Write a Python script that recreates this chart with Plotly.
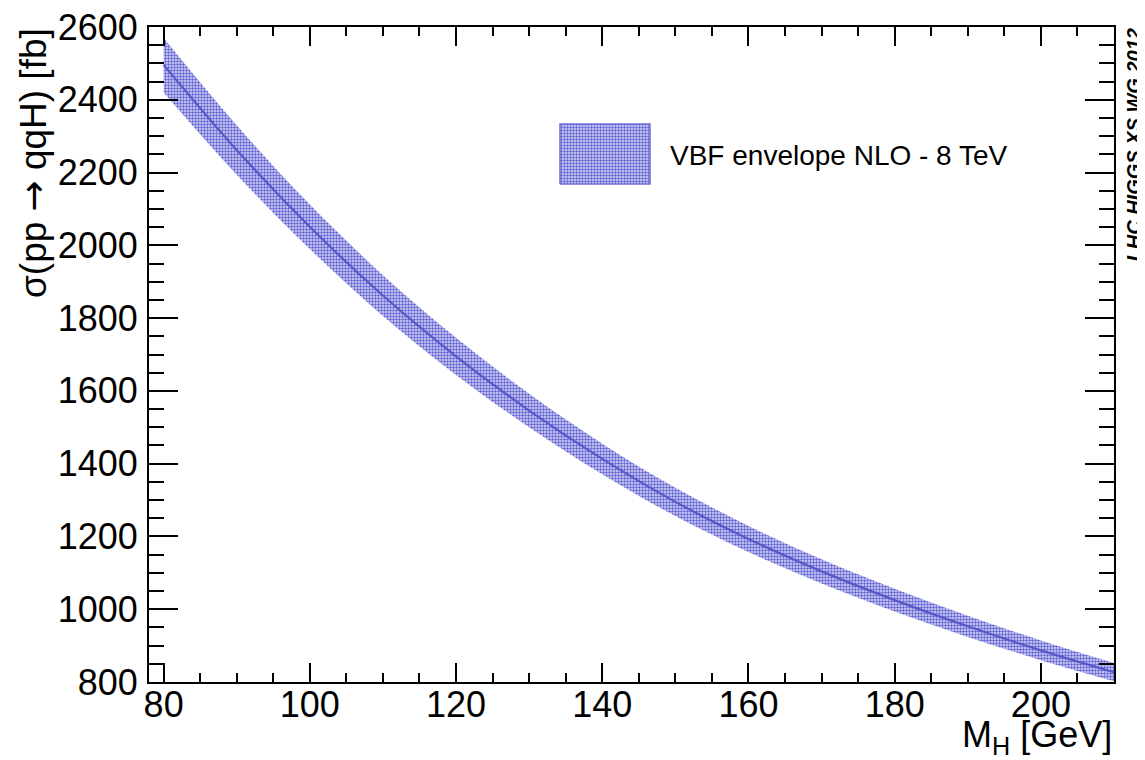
import plotly.graph_objects as go

# ---- data ----
mass = [80, 90, 100, 110, 120, 130, 140, 150, 160, 170, 180, 190, 200, 210]
xs_central = [2496, 2262, 2051, 1862, 1695, 1546, 1413, 1295, 1193, 1104, 1025, 953, 887, 827]
xs_upper = [2570, 2330, 2112, 1918, 1746, 1592, 1455, 1334, 1229, 1137, 1056, 982, 914, 852]
xs_lower = [2420, 2194, 1990, 1806, 1644, 1500, 1371, 1256, 1157, 1071, 994, 924, 860, 802]

legend_label = "VBF envelope NLO - 8 TeV"
x_title = "M<sub>H</sub> [GeV]"
y_title = 'σ(pp <span style="font-family:DejaVu Sans">→</span> qqH) [fb]'
watermark = "LHC HIGGS XS WG 2012"

# ---- styling ----
FONT = "Liberation Sans, Arial, Helvetica, sans-serif"
BAND_FG = "rgb(95,95,212)"
BAND_BG = "rgb(218,218,246)"
LINE_COL = "rgb(88,88,200)"

# the page body adds an 8px offset; compensate so the plot lands where the reference has it
OFF = 8
W, H = 1145 - OFF, 760 - OFF
PL, PR, PT, PB = 149, 1114, 27, 682  # plot-area edges in window pixels
ML, MR, MT, MB = PL - OFF, (W + OFF) - PR, PT - OFF, (H + OFF) - PB
PW, PH = PR - PL, PB - PT


def px_x(p):
    return (p - PL) / PW


def px_y(p):
    return (PB - p) / PH


pattern = dict(shape=".", size=3, solidity=0.5, fgcolor=BAND_FG,
               bgcolor=BAND_BG, fillmode="replace")

fig = go.Figure()
fig.add_trace(go.Scatter(x=mass, y=xs_lower, mode="lines", line=dict(width=0, shape="spline"),
                         showlegend=False, hoverinfo="skip"))
fig.add_trace(go.Scatter(x=mass, y=xs_upper, mode="lines", line=dict(width=0, shape="spline"),
                         fill="tonexty", fillcolor=BAND_BG, fillpattern=pattern,
                         showlegend=False, name=legend_label))
fig.add_trace(go.Scatter(x=mass, y=xs_central, mode="lines",
                         line=dict(color=LINE_COL, width=2.2, shape="spline"), showlegend=False))

# legend swatch drawn on an overlay axis in plot-fraction units
lx0, lx1 = px_x(560), px_x(650)
ly0, ly1 = px_y(184), px_y(124)
fig.add_trace(go.Scatter(x=[lx0, lx1, lx1, lx0, lx0], y=[ly0, ly0, ly1, ly1, ly0],
                         xaxis="x2", yaxis="y2", mode="lines", fill="toself",
                         line=dict(color="rgb(110,110,215)", width=1.5),
                         fillcolor=BAND_BG, fillpattern=pattern,
                         showlegend=False, hoverinfo="skip"))

axis_common = dict(showgrid=False, zeroline=False, showline=True, linecolor="black", linewidth=2,
                   mirror="allticks", ticks="inside", tickcolor="black", tickwidth=1.6,
                   ticklabeloverflow="allow", automargin=False,
                   tickfont=dict(family=FONT, size=36, color="black"))

fig.update_layout(
    width=W, height=H,
    margin=dict(l=ML, r=MR, t=MT, b=MB, pad=0, autoexpand=False),
    paper_bgcolor="white", plot_bgcolor="white",
    xaxis=dict(range=[78, 210], tick0=80, dtick=20, ticklen=19,
               minor=dict(dtick=5, tick0=80, ticklen=9, ticks="inside", tickcolor="black", tickwidth=1.6),
               ticklabelstandoff=-10, **axis_common),
    yaxis=dict(range=[800, 2600], tick0=800, dtick=200, ticklen=29,
               minor=dict(dtick=50, tick0=800, ticklen=15, ticks="inside", tickcolor="black", tickwidth=1.6),
               ticklabelstandoff=2, **axis_common),
    xaxis2=dict(overlaying="x", range=[0, 1], visible=False, automargin=False),
    yaxis2=dict(overlaying="y", range=[0, 1], visible=False, automargin=False),
    showlegend=False,
)

fig.add_annotation(xref="paper", yref="paper", x=px_x(668), y=px_y(155), xanchor="left", yanchor="middle",
                   text=legend_label, showarrow=False, font=dict(family=FONT, size=28, color="black"))
fig.add_annotation(xref="paper", yref="paper", x=px_x(1114), y=px_y(762), xanchor="right", yanchor="bottom",
                   text=x_title, showarrow=False, font=dict(family=FONT, size=36, color="black"))
fig.add_annotation(xref="paper", yref="paper", x=px_x(34), y=px_y(26), xanchor="center", yanchor="top",
                   text=y_title, textangle=-90, showarrow=False, font=dict(family=FONT, size=37, color="black"))
fig.add_annotation(xref="paper", yref="paper", x=px_x(1133), y=px_y(27), xanchor="center", yanchor="top",
                   text="<b><i>" + watermark + "</i></b>", textangle=-90, showarrow=False,
                   font=dict(family=FONT, size=20, color="black"))

fig.write_html("out.html")
